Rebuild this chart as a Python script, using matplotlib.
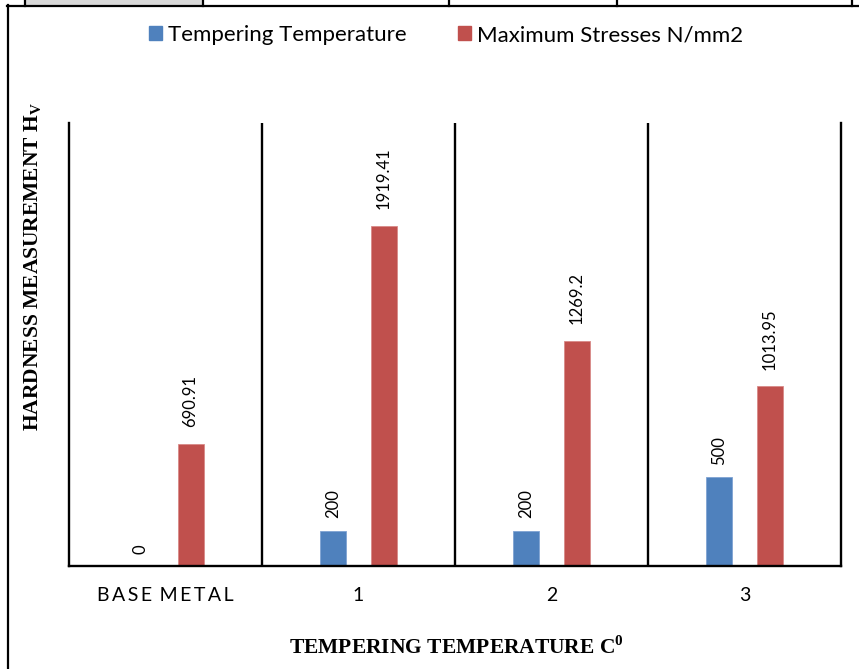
import matplotlib
matplotlib.use("Agg")
import matplotlib.pyplot as plt
import numpy as np
from matplotlib.patches import Patch, Rectangle
from matplotlib.lines import Line2D

plt.rcParams["mathtext.fontset"] = "custom"
plt.rcParams["mathtext.rm"] = "Liberation Serif"
plt.rcParams["mathtext.bf"] = "Liberation Serif:bold"

categories = ["B\u2009A\u2009S\u2009E\u2009 M\u2009E\u2009T\u2009A\u2009L", "1", "2", "3"]
tempering = [0, 200, 200, 500]
max_stress = [690.91, 1919.41, 1269.2, 1013.95]
tempering_labels = ["0", "200", "200", "500"]
stress_labels = ["690.91", "1919.41", "1269.2", "1013.95"]
series_names = ["Tempering Temperature", "Maximum Stresses N/mm2"]

BLUE = "#4F81BD"
RED = "#C0504D"

W, H = 859, 669
fig = plt.figure(figsize=(W / 100, H / 100), dpi=100)
ax = fig.add_axes([69 / W, 1 - 566 / H, (841 - 69) / W, (566 - 123) / H])

x = np.arange(len(categories))
bw = 0.135
off = 0.13
ax.bar(x - off, tempering, bw, color=BLUE, edgecolor="#7FA3D3", linewidth=0.6, label=series_names[0])
ax.bar(x + off, max_stress, bw, color=RED, edgecolor="#D98A88", linewidth=0.6, label=series_names[1])

lab_font = ["Lato", "DejaVu Sans"]
for xi, v, t in zip(x - off, tempering, tempering_labels):
    ax.annotate(t, (xi, v), xytext=(0, 9), textcoords="offset points", rotation=90,
                ha="center", va="bottom", fontsize=12, family=lab_font, color="#000000")
for xi, v, t in zip(x + off, max_stress, stress_labels):
    ax.annotate(t, (xi, v), xytext=(0, 12), textcoords="offset points", rotation=90,
                ha="center", va="bottom", fontsize=12, family=lab_font, color="#000000")

ax.set_xlim(-0.5, len(categories) - 0.5)
ax.set_ylim(0, 2500)
ax.set_yticks([])
ax.set_xticks(x)
ax.set_xticklabels(categories, family=lab_font, fontsize=14)
ax.tick_params(axis="x", length=0, pad=15)
for s in ["left", "right", "bottom"]:
    ax.spines[s].set_linewidth(1.7)
    ax.spines[s].set_color("black")
ax.spines["top"].set_visible(False)
for xv in [0.5, 1.5, 2.5]:
    ax.axvline(xv, color="black", lw=1.7)

ax.set_ylabel(r"HARDNESS MEASUREMENT H$_\mathbf{V}$", family="Liberation Serif",
              fontweight="bold", fontsize=15.5, va="center")
ax.yaxis.set_label_coords(-0.047, 0.677)
ax.set_xlabel(r"TEMPERING TEMPERATURE C$^\mathbf{0}$", family="Liberation Serif",
              fontweight="bold", fontsize=15.5, va="center")
ax.xaxis.set_label_coords(0.502, -0.185)

ax.legend(handles=[Patch(color=BLUE), Patch(color=RED)], labels=series_names,
          loc="center", bbox_to_anchor=(446 / W, 1 - 35 / H), bbox_transform=fig.transFigure,
          ncol=2, frameon=False, handlelength=0.6, handleheight=0.6, handletextpad=0.28,
          columnspacing=2.3, prop={"family": "Lato", "size": 16})

# page / table borders
def fl(xs, ys, lw=1.6):
    fig.add_artist(Line2D([a / W for a in xs], [1 - b / H for b in ys], color="black", lw=lw))

fig.add_artist(Rectangle((25 / W, 1 - 5 / H), (203 - 25) / W, 5 / H, facecolor="#D9D9D9",
                         edgecolor="none", transform=fig.transFigure))
fl([7, 859], [5.5, 5.5])
fl([7.5, 7.5], [5, 669])
for xv in [25, 203, 449, 617, 852]:
    fl([xv, xv], [0, 5.5])

fig.savefig("out.png", dpi=100, facecolor="white")
